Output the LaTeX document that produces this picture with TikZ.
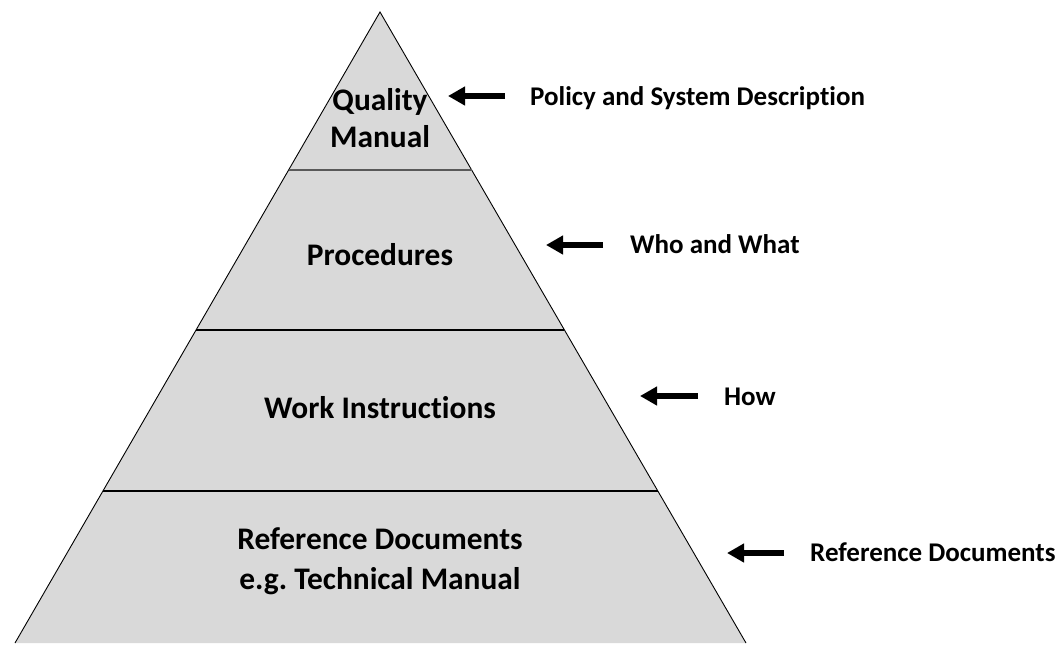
\documentclass[tikz,border=0pt]{standalone}
\usepackage{fontspec}
\setmainfont{Carlito}[Ligatures=NoCommon]
\usetikzlibrary{arrows.meta,calc}
\definecolor{tiergray}{HTML}{D9D9D9}
\definecolor{topline}{HTML}{595959}
\frenchspacing
\begin{document}
\begin{tikzpicture}[x=1pt,y=-1pt,
  side/.style={line width=0.9pt,black},
  divider/.style={line width=2pt,black},
  tiertext/.style={font=\bfseries\fontsize{31.4}{37}\selectfont,inner sep=0pt,anchor=base},
  sidetext/.style={font=\bfseries\fontsize{27}{32}\selectfont,inner sep=0pt,anchor=base west},
  pointer/.style={line width=5.5pt,-{Triangle[length=17pt,width=18pt]}}]
\useasboundingbox (0,0) rectangle (1057,645);
\coordinate (apex) at (380,12);
\coordinate (bl) at (15,643);
\coordinate (br) at (746,643);
\fill[tiergray] (apex) -- (bl) -- (br) -- cycle;
\draw[side] (bl) -- (apex) -- (br);
\draw[divider,topline] ($(apex)!0.2504!(bl)$) -- ($(apex)!0.2504!(br)$);
\draw[divider] ($(apex)!0.504!(bl)$) -- ($(apex)!0.504!(br)$);
\draw[divider] ($(apex)!0.759!(bl)$) -- ($(apex)!0.759!(br)$);
% tier texts
\node[tiertext] (qm1) at (380,110) {Quality};
\node[tiertext] (qm2) at (380,147) {Manual};
\node[tiertext] (proc) at (380,265) {Procedures};
\node[tiertext] (wi) at (380,418) {Work Instructions};
\node[tiertext] (rd1) at (380,549) {Reference Documents};
\node[tiertext] (rd2) at (380,589) {e.g. Technical Manual};
% side labels
\node[sidetext] (l1) at (530,105) {Policy and System Description};
\node[sidetext] (l2) at (630,253) {Who and What};
\node[sidetext] (l3) at (724,405) {How};
\node[sidetext] (l4) at (810,561) {Reference Documents};
% arrows
\coordinate (a1s) at (505,96); \coordinate (a1e) at (448,96);
\coordinate (a2s) at (603,245); \coordinate (a2e) at (546,245);
\coordinate (a3s) at (698,396); \coordinate (a3e) at (640,396);
\coordinate (a4s) at (784,553); \coordinate (a4e) at (727,553);
\draw[pointer] (a1s) -- (a1e);
\draw[pointer] (a2s) -- (a2e);
\draw[pointer] (a3s) -- (a3e);
\draw[pointer] (a4s) -- (a4e);
\end{tikzpicture}
\end{document}
